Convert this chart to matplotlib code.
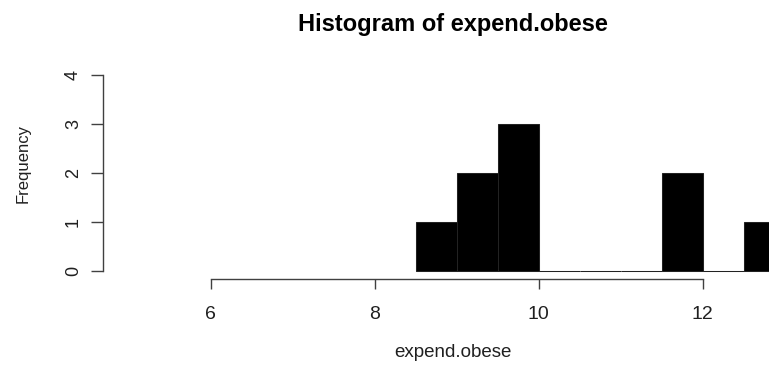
import matplotlib
matplotlib.use("Agg")
import matplotlib.pyplot as plt
import numpy as np

plt.rcParams["font.family"] = ["Liberation Sans", "DejaVu Sans"]

# histogram of expend.obese: bin edges and counts per bin
breaks = np.arange(8.5, 13.01, 0.5)
counts = [1, 2, 3, 0, 0, 0, 2, 0, 1]
x_ticks = [6, 8, 10, 12]
y_ticks = [0, 1, 2, 3, 4]

W, H = 769, 372
fig = plt.figure(figsize=(W / 100, H / 100), dpi=100)
# plot region runs past the right edge, as in the cropped output
ax = fig.add_axes([102.7 / W, (H - 278.5) / H, 700 / W, 211.2 / H])
ax.set_xlim(4.683, 4.683 + 700 / 82)
ax.set_ylim(-0.16, 4.16)

ax.bar(breaks[:-1], counts, width=np.diff(breaks), align="edge",
       color="black", edgecolor="#222222", linewidth=0.75)

for s in ["top", "right"]:
    ax.spines[s].set_visible(False)
ax.spines["left"].set_bounds(0, 4)
ax.spines["bottom"].set_bounds(6, 12)
for s in ["left", "bottom"]:
    ax.spines[s].set_color("#404040")
    ax.spines[s].set_linewidth(1)

ax.set_xticks(x_ticks)
ax.set_yticks(y_ticks)
ax.tick_params(axis="x", length=7.5, width=1, color="#404040", pad=12.5,
               labelsize=14, labelcolor="#202020")
ax.tick_params(axis="y", length=9, width=1, color="#404040", pad=6,
               labelsize=13, labelcolor="#202020")
for lab in ax.get_yticklabels():
    lab.set_rotation(90)
    lab.set_va("center")

ax.set_title("Histogram of expend.obese", fontsize=17, fontweight="bold", pad=26)
ax.set_xlabel("expend.obese", fontsize=13.5, color="#202020")
ax.xaxis.set_label_coords(0.5, -0.35)
ax.xaxis.label.set_va("center")
ax.set_ylabel("Frequency", fontsize=12, color="#202020")
ax.yaxis.set_label_coords(-0.114, 0.545)
ax.yaxis.label.set_va("center")

fig.savefig("out.png", dpi=100)
